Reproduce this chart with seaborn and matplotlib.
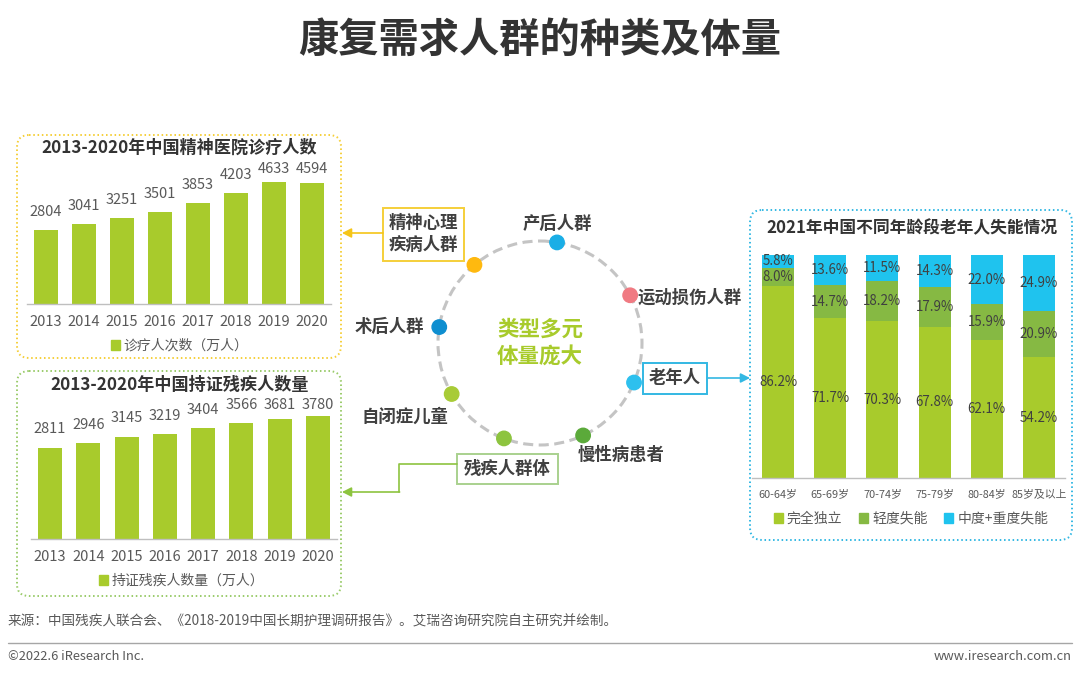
import numpy as np
import pandas as pd
import matplotlib
matplotlib.use("Agg")
import matplotlib.pyplot as plt
import seaborn as sns
from matplotlib.patches import FancyBboxPatch, Circle, Rectangle, Patch

# ---------------- data ----------------
years = ["2013", "2014", "2015", "2016", "2017", "2018", "2019", "2020"]
psych_visits = [2804, 3041, 3251, 3501, 3853, 4203, 4633, 4594]
disabled_certified = [2811, 2946, 3145, 3219, 3404, 3566, 3681, 3780]
age_groups = ["60-64岁", "65-69岁", "70-74岁", "75-79岁", "80-84岁", "85岁及以上"]
independent = [86.2, 71.7, 70.3, 67.8, 62.1, 54.2]
mild_loss = [8.0, 14.7, 18.2, 17.9, 15.9, 20.9]
severe_loss = [5.8, 13.6, 11.5, 14.3, 22.0, 24.9]
stack_labels = ["完全独立", "轻度失能", "中度+重度失能"]
groups = ["产后人群", "运动损伤人群", "老年人", "慢性病患者", "残疾人群体", "自闭症儿童", "术后人群", "精神心理\n疾病人群"]

title = "康复需求人群的种类及体量"
t1 = "2013-2020年中国精神医院诊疗人数"
t2 = "2013-2020年中国持证残疾人数量"
t3 = "2021年中国不同年龄段老年人失能情况"
leg1 = "诊疗人次数（万人）"
leg2 = "持证残疾人数量（万人）"
center_text = "类型多元\n体量庞大"
source = "来源：中国残疾人联合会、《2018-2019中国长期护理调研报告》。艾瑞咨询研究院自主研究并绘制。"
copyright_ = "©2022.6 iResearch Inc."
website = "www.iresearch.com.cn"

# ---------------- style ----------------
sns.set_style("white")
plt.rcParams['font.family'] = ['Noto Sans CJK SC', 'DejaVu Sans']

LIME = "#A8CB2C"
GREEN = "#86B943"
CYAN = "#1FC3EE"
DARK = "#333333"
VAL = "#595959"
YELLOW = "#F5CF3A"
BOXGREEN = "#9ACB6A"
BOXCYAN = "#33B8E3"

W, H = 1080, 678
fig = plt.figure(figsize=(W / 100, H / 100), dpi=100)
ax0 = fig.add_axes([0, 0, 1, 1], zorder=0)
ax0.set_xlim(0, W)
ax0.set_ylim(H, 0)
ax0.axis('off')


def rect(l, t, r, b):
    return [l / W, 1 - b / H, (r - l) / W, (b - t) / H]


def dotted_box(l, t, r, b, color, rad=12):
    ax0.add_patch(FancyBboxPatch((l, t), r - l, b - t,
                                 boxstyle=f"round,pad=0,rounding_size={rad}",
                                 fill=False, ec=color, lw=1.4, ls=(0, (0.8, 1.4))))


# ---------------- title ----------------
ax0.text(540, 40, title, ha='center', va='center', fontsize=29, fontweight='bold', color=DARK)

# ---------------- panel boxes ----------------
dotted_box(17, 135, 341, 358, YELLOW)
dotted_box(17, 371, 341, 596, BOXGREEN)
dotted_box(750, 210, 1072, 540, BOXCYAN)

ax0.text(179, 148, t1, ha='center', va='center', fontsize=12.3, fontweight='bold', color=DARK)
ax0.text(180, 385, t2, ha='center', va='center', fontsize=12.3, fontweight='bold', color=DARK)
ax0.text(912, 228, t3, ha='center', va='center', fontsize=12.1, fontweight='bold', color=DARK)


# ---------------- bar chart helper ----------------
def simple_bars(rect_px, values, ymax, label_off, label_cap, legend_text, legend_xy):
    ax = fig.add_axes(rect(*rect_px), zorder=2)
    ax.patch.set_alpha(0)
    df = pd.DataFrame({"year": years, "value": values})
    sns.barplot(data=df, x="year", y="value", ax=ax, color=LIME, width=0.63,
                saturation=1, linewidth=0)
    ax.set_ylim(0, ymax)
    ax.set_xlim(-0.5, len(years) - 0.5)
    ax.set_xlabel("")
    ax.set_ylabel("")
    ax.set_yticks([])
    for s in ["left", "right", "top"]:
        ax.spines[s].set_visible(False)
    ax.spines["bottom"].set_color("#BFBFBF")
    ax.spines["bottom"].set_linewidth(1)
    ax.tick_params(axis='x', length=0, pad=8, labelsize=10.5, labelcolor=VAL)
    for i, v in enumerate(values):
        ax.text(i, min(v + label_off, label_cap), f"{v}", ha='center', va='center',
                fontsize=10.5, color=VAL, clip_on=False)
    leg = ax.legend(handles=[Patch(color=LIME)], labels=[legend_text], loc='center',
                    bbox_to_anchor=(legend_xy[0] / W, 1 - legend_xy[1] / H),
                    bbox_transform=fig.transFigure, frameon=False, handlelength=0.65,
                    handleheight=0.65, handletextpad=0.25, fontsize=10)
    for t in leg.get_texts():
        t.set_color(VAL)
    return ax


# left-top: baseline 304 px, 0.02633 px/unit
s1 = 0.02633
simple_bars((27, 304 - 5000 * s1, 331, 304), psych_visits, 5000, 18 / s1, (304 - 169) / s1,
            leg1, (180, 346))
# left-bottom: baseline 539 px, 0.03254 px/unit
s2 = 0.03254
simple_bars((31, 539 - 4000 * s2, 337, 539), disabled_certified, 4000, 18.5 / s2, (539 - 405) / s2,
            leg2, (182, 581))

# ---------------- stacked chart ----------------
ax3 = fig.add_axes(rect(752, 255, 1065, 478), zorder=2)
ax3.patch.set_alpha(0)
dfs = pd.DataFrame({"age": age_groups, "independent": independent,
                    "mild": mild_loss, "severe": severe_loss})
b_mild = np.array(independent)
b_sev = b_mild + np.array(mild_loss)
sns.barplot(data=dfs, x="age", y="independent", ax=ax3, color=LIME, width=0.613, saturation=1, linewidth=0)
sns.barplot(data=dfs, x="age", y="mild", ax=ax3, color=GREEN, width=0.613, saturation=1, linewidth=0,
            bottom=b_mild)
sns.barplot(data=dfs, x="age", y="severe", ax=ax3, color=CYAN, width=0.613, saturation=1, linewidth=0,
            bottom=b_sev)
ax3.set_ylim(0, 100)
ax3.set_xlim(-0.5, len(age_groups) - 0.5)
ax3.set_xlabel("")
ax3.set_ylabel("")
ax3.set_yticks([])
for s in ["left", "right", "top"]:
    ax3.spines[s].set_visible(False)
ax3.spines["bottom"].set_color("#BFBFBF")
ax3.spines["bottom"].set_linewidth(1)
ax3.tick_params(axis='x', length=0, pad=8, labelsize=7.8, labelcolor=VAL)
pct_kw = dict(ha='center', va='center', fontsize=9.6, color="#404040")
for i in range(len(age_groups)):
    ax3.text(i, independent[i] / 2, f"{independent[i]:.1f}%", **pct_kw)
    ax3.text(i, b_mild[i] + mild_loss[i] / 2, f"{mild_loss[i]:.1f}%", **pct_kw)
    ax3.text(i, b_sev[i] + severe_loss[i] / 2, f"{severe_loss[i]:.1f}%", **pct_kw)
leg3 = ax3.legend(handles=[Patch(color=c) for c in (LIME, GREEN, CYAN)], labels=stack_labels,
                  loc='center', bbox_to_anchor=(911 / W, 1 - 519 / H), bbox_transform=fig.transFigure,
                  frameon=False, ncol=3, handlelength=0.65, handleheight=0.65, handletextpad=0.3,
                  columnspacing=1.2, fontsize=10)
for t in leg3.get_texts():
    t.set_color(VAL)

# ---------------- center diagram ----------------
cx, cy, R = 540, 343, 102
ax0.add_patch(Circle((cx, cy), R, fill=False, ec="#C4C4C4", lw=2.2, ls=(0, (3.3, 1.8))))
ax0.text(cx, cy, center_text, ha='center', va='center', fontsize=15.5, fontweight='bold',
         color=LIME, linespacing=1.35)

angles = [80.4, 27.9, -22.8, -65.0, -110.7, -150.0, 171.0, 130.0]
dot_colors = ["#1AAEE6", "#F07A82", "#2DC0EE", "#5BAA3A", "#8DC43F", "#A8CB37", "#0E8ED0", "#FFB90F"]
for a, c in zip(angles, dot_colors):
    x = cx + R * np.cos(np.radians(a))
    y = cy - R * np.sin(np.radians(a))
    ax0.add_patch(Circle((x, y), 7.2, color=c, zorder=3))

lab_kw = dict(fontsize=12.5, fontweight='bold', color="#404040", va='center')
ax0.text(557, 224, groups[0], ha='center', **lab_kw)
ax0.text(638, 298, groups[1], ha='left', **lab_kw)
ax0.text(675, 378, groups[2], ha='center', **lab_kw)
ax0.text(621, 455, groups[3], ha='center', **lab_kw)
ax0.text(507, 469, groups[4], ha='center', **lab_kw)
ax0.text(405, 417, groups[5], ha='center', **lab_kw)
ax0.text(424, 327, groups[6], ha='right', **lab_kw)
ax0.text(423, 234, groups[7], ha='center', linespacing=1.35, **lab_kw)

# label boxes
ax0.add_patch(Rectangle((383, 208), 81, 53, fill=False, ec=YELLOW, lw=1.4))
ax0.add_patch(Rectangle((643, 363), 64, 31, fill=False, ec=BOXCYAN, lw=1.4))
ax0.add_patch(Rectangle((457, 454), 101, 30, fill=False, ec="#A9D18E", lw=1.4))

arrow_kw = dict(arrowstyle="-|>,head_length=0.55,head_width=0.28", lw=1.2, shrinkA=0, shrinkB=0)
ax0.annotate("", xy=(342, 233), xytext=(383, 233), arrowprops=dict(color="#F5C518", **arrow_kw))
ax0.annotate("", xy=(750, 378), xytext=(707, 378), arrowprops=dict(color=BOXCYAN, **arrow_kw))
ax0.plot([457, 399, 399], [464, 464, 492], color="#8DC43F", lw=1.2)
ax0.annotate("", xy=(342, 492), xytext=(399.6, 492), arrowprops=dict(color="#8DC43F", **arrow_kw))

# ---------------- footer ----------------
ax0.text(8, 621, source, ha='left', va='center', fontsize=9.8, color=VAL)
ax0.plot([8, 1072], [643, 643], color="#A6A6A6", lw=1)
ax0.text(8, 657, copyright_, ha='left', va='center', fontsize=9.3, color=VAL)
ax0.text(1072, 657, website, ha='right', va='center', fontsize=9.3, color=VAL)

fig.savefig("out.png", dpi=100)
